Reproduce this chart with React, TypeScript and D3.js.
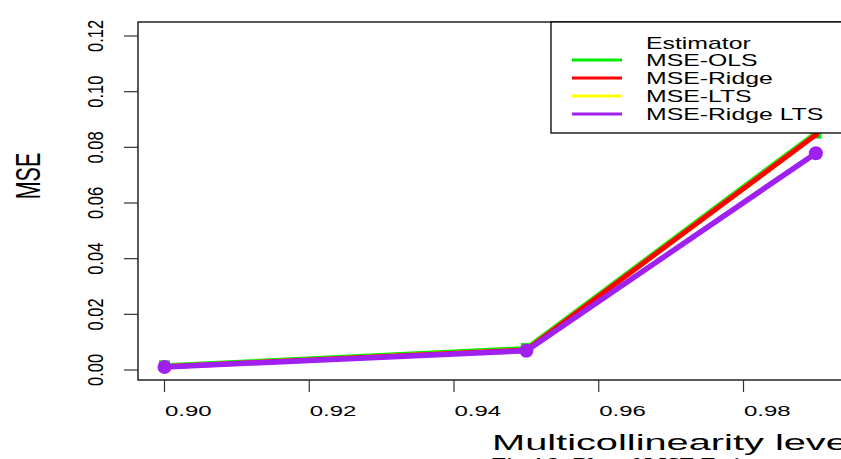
import React from "react";
import * as d3 from "d3";

const levels = [0.90, 0.95, 0.99];
const mseOLS = [0.0015, 0.0077, 0.0851];
const mseLTS = [0.0012, 0.0072, 0.0845];
const mseRidge = [0.0012, 0.0072, 0.0845];
const mseRidgeLTS = [0.0011, 0.0069, 0.0779];
const xTicks = [0.90, 0.92, 0.94, 0.96, 0.98];
const yTicks = [0, 0.02, 0.04, 0.06, 0.08, 0.10, 0.12];
const legendNames = ["MSE-OLS", "MSE-Ridge", "MSE-LTS", "MSE-Ridge LTS"];
const legendColors = ["#00ee00", "#ff0000", "#ffff00", "#a020f0"];

export default function App() {
  const x = d3.scaleLinear().domain([0.9, 0.98]).range([164.5, 743.5]);
  const y = d3.scaleLinear().domain([0, 0.12]).range([370, 36]);
  const line = d3
    .line<number>()
    .x((_, i) => x(levels[i]))
    .y((d) => y(d));

  const font = "'Liberation Sans', Arial, Helvetica, sans-serif";

  return (
    <svg
      width={841}
      height={459}
      style={{ position: "absolute", left: 0, top: 0, background: "#fff" }}
      fontFamily={font}
    >
      <rect x={0} y={0} width={841} height={459} fill="#fff" />
      {/* plot box */}
      <rect x={138} y={22} width={800} height={358} fill="none" stroke="#000" strokeWidth={1.3} />

      {/* y axis ticks */}
      {yTicks.map((t) => (
        <g key={"y" + t}>
          <line x1={124} x2={138} y1={y(t)} y2={y(t)} stroke="#333" strokeWidth={1.2} />
          <text
            transform={`translate(103,${y(t)}) rotate(-90) scale(1,1.3)`}
            textAnchor="middle"
            fontSize={16.5}
            fill="#000"
          >
            {t.toFixed(2)}
          </text>
        </g>
      ))}
      <text
        transform={`translate(40,176) rotate(-90) scale(1,1.6)`}
        textAnchor="middle"
        fontSize={21.5}
        fill="#000"
      >
        MSE
      </text>

      {/* x axis ticks */}
      {xTicks.map((t) => (
        <g key={"x" + t}>
          <line x1={x(t)} x2={x(t)} y1={380} y2={392} stroke="#333" strokeWidth={1.2} />
          <text
            transform={`translate(${x(t) + 0.5},416) scale(1.6,1)`}
            textAnchor="start"
            fontSize={15}
            fill="#000"
          >
            {t.toFixed(2)}
          </text>
        </g>
      ))}
      <text transform="translate(492,450) scale(1.85,1)" fontSize={21.5} fill="#000">
        Multicollinearity level
      </text>
      <text
        transform="translate(492,471) scale(1.3,1)"
        fontSize={18}
        fontWeight="bold"
        fontFamily="'Liberation Serif', 'Times New Roman', serif"
        fill="#000"
      >
        Fig 4.2: Plot of MSE Estimators and Multicollinearity
      </text>

      {/* series */}
      <path d={line(mseOLS) || ""} fill="none" stroke="#00ee00" strokeWidth={5} />
      {mseOLS.map((v, i) => (
        <rect key={"o" + i} x={x(levels[i]) - 5.5} y={y(v) - 5.5} width={11} height={11} fill="#00ee00" />
      ))}
      <path d={line(mseLTS) || ""} fill="none" stroke="#ffff00" strokeWidth={5} />
      <path d={line(mseRidge) || ""} fill="none" stroke="#ff0000" strokeWidth={5} />
      {mseRidge.map((v, i) => (
        <circle key={"r" + i} cx={x(levels[i])} cy={y(v)} r={3} fill="#ff0000" />
      ))}
      <path d={line(mseRidgeLTS) || ""} fill="none" stroke="#a020f0" strokeWidth={5.5} />
      {mseRidgeLTS.map((v, i) => (
        <circle key={"p" + i} cx={x(levels[i])} cy={y(v)} r={7} fill="#a020f0" />
      ))}

      {/* legend */}
      <rect x={551} y={22} width={400} height={111} fill="#fff" stroke="#000" strokeWidth={1.3} />
      <text transform="translate(646,49) scale(1.55,1)" fontSize={16} fill="#000">
        Estimator
      </text>
      {legendNames.map((n, i) => (
        <g key={n}>
          <line x1={572} x2={622} y1={60 + i * 18} y2={60 + i * 18} stroke={legendColors[i]} strokeWidth={3} />
          <text transform={`translate(646,${66 + i * 18}) scale(1.55,1)`} fontSize={16} fill="#000">
            {n}
          </text>
        </g>
      ))}
    </svg>
  );
}
